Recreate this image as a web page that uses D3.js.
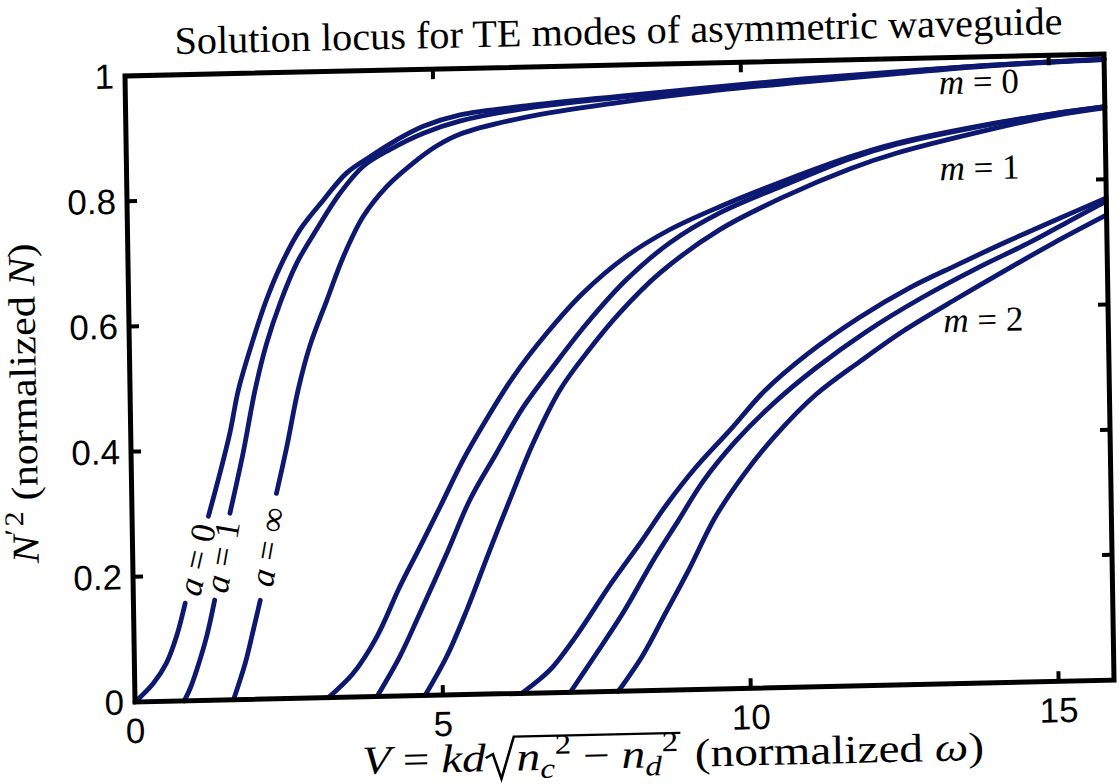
<!DOCTYPE html>
<html>
<head>
<meta charset="utf-8">
<script src="https://cdn.jsdelivr.net/npm/d3@7"></script>
<style>
  body { margin: 0; background: #fff; }
  svg { display: block; }
</style>
</head>
<body>
<svg id="chart" width="1120" height="784"></svg>
<script>
// ---- Solution locus data: [V, N'^2] pairs; null marks the gap left for a curve label ----
const m0_a0 = [[0,0],[0.3,0.029],[0.52,0.061],[0.69,0.103],[0.84,0.156],null,[1.24,0.294],[1.44,0.363],[1.61,0.426],[1.76,0.495],[2.01,0.574],[2.24,0.638],[2.47,0.69],[2.8,0.748],[3.19,0.795],[3.57,0.837],[3.95,0.862],[4.39,0.888],[4.83,0.909],[5.43,0.926],[6.5,0.938],[8,0.95],[9.5,0.961],[11,0.971],[12.5,0.979],[14,0.986],[15.9,0.992]];
const m0_a1 = [[0.8,0],[0.9,0.02],[1.01,0.049],[1.18,0.102],[1.32,0.16],null,[1.59,0.298],[1.82,0.394],[2.03,0.494],[2.23,0.568],[2.46,0.632],[2.74,0.695],[3.07,0.748],[3.46,0.805],[3.84,0.847],[4.28,0.873],[4.83,0.898],[5.42,0.916],[6.5,0.934],[8,0.948],[9.5,0.959],[11,0.969],[12.5,0.978],[14,0.986],[15.9,0.992]];
const m0_aInf = [[1.6,0],[1.8,0.058],[1.94,0.111],[2.06,0.158],null,[2.35,0.328],[2.53,0.402],[2.73,0.493],[2.93,0.562],[3.22,0.635],[3.5,0.704],[3.83,0.767],[4.22,0.814],[4.66,0.851],[5.04,0.877],[5.42,0.895],[6.5,0.92],[8,0.94],[9.5,0.955],[11,0.966],[12.5,0.976],[14,0.985],[15.9,0.991]];

const m1_a0 = [[3.14,0],[3.55,0.038],[3.94,0.095],[4.33,0.175],[4.67,0.238],[5.0,0.3],[5.39,0.375],[5.78,0.439],[6.22,0.505],[6.78,0.574],[7.38,0.637],[8.09,0.694],[8.8,0.735],[9.62,0.77],[10.7,0.81],[11.75,0.845],[12.5,0.865],[14,0.892],[15.1,0.907],[15.9,0.916]];
const m1_a1 = [[3.93,0],[4.31,0.063],[4.65,0.132],[5.1,0.226],[5.49,0.311],[5.93,0.384],[6.38,0.457],[6.87,0.52],[7.43,0.588],[8.09,0.657],[8.8,0.714],[9.62,0.76],[10.7,0.803],[11.75,0.842],[12.5,0.863],[14,0.891],[15.1,0.907],[15.9,0.916]];
const m1_aInf = [[4.71,0],[5.07,0.061],[5.41,0.135],[5.8,0.23],[6.14,0.31],[6.53,0.399],[6.98,0.483],[7.42,0.541],[7.97,0.604],[8.63,0.666],[9.61,0.733],[10.7,0.785],[11.75,0.826],[12.5,0.849],[14,0.883],[15.1,0.904],[15.9,0.914]];

const m2_a0 = [[6.28,0],[6.59,0.023],[6.8,0.042],[7.19,0.091],[7.78,0.175],[8.26,0.238],[8.68,0.296],[9.16,0.354],[9.76,0.416],[10.3,0.474],[11.0,0.531],[11.86,0.588],[12.69,0.634],[13.47,0.669],[14.25,0.703],[15.1,0.738],[15.9,0.77]];
const m2_a1 = [[7.07,0],[7.49,0.059],[7.96,0.127],[8.44,0.206],[8.86,0.269],[9.28,0.332],[9.82,0.395],[10.42,0.452],[11.14,0.509],[11.98,0.566],[12.87,0.617],[13.77,0.662],[14.67,0.703],[15.3,0.735],[15.9,0.765]];
const m2_aInf = [[7.85,0],[8.26,0.057],[8.62,0.12],[9.04,0.194],[9.46,0.273],[9.94,0.341],[10.48,0.404],[11.14,0.467],[11.86,0.518],[12.57,0.565],[13.47,0.616],[14.37,0.665],[15.03,0.7],[15.9,0.743]];

const curves = [m0_a0, m0_a1, m0_aInf, m1_a0, m1_a1, m1_aInf, m2_a0, m2_a1, m2_aInf];

const xTickValues = [0, 5, 10, 15];
const yTickValues = [0, 0.2, 0.4, 0.6, 0.8, 1];
const yTickLabels = ["0", "0.2", "0.4", "0.6", "0.8", "1"];

const asymLabels = ["0", "1", "\u221E"];      // a = 0, 1, ∞
const modeLabels = ["0", "1", "2"];           // m = 0, 1, 2

const titleText = "Solution locus for TE modes of asymmetric waveguide";

// ---- Layout ----
const W = 979, H = 626;
const x = d3.scaleLinear().domain([0, 15.9]).range([0, W]);
const y = d3.scaleLinear().domain([0, 1]).range([H, 0]);

const svg = d3.select("#chart");
svg.append("rect").attr("width", 1120).attr("height", 784).attr("fill", "#fff");

// the printed page sits slightly tilted
const g = svg.append("g").attr("transform", "matrix(1,-0.0224,0.016,1,125,76)");

const serif = "'Liberation Serif', 'Times New Roman', serif";
const sans = "'Liberation Sans', Arial, Helvetica, sans-serif";
const ink = "#000";
const curveColor = "#0d1870";

// ---- Curves ----
const line = d3.line()
  .defined(d => d !== null)
  .x(d => x(d[0]))
  .y(d => y(d[1]))
  .curve(d3.curveCatmullRom.alpha(0.5));

g.append("g").selectAll("path").data(curves).join("path")
  .attr("d", line)
  .attr("fill", "none")
  .attr("stroke", curveColor)
  .attr("stroke-width", 4.8)
  .attr("stroke-linejoin", "round")
  .attr("stroke-linecap", "round");

// ---- Frame and ticks ----
g.append("rect").attr("x", 0).attr("y", 0).attr("width", W).attr("height", H)
  .attr("fill", "none").attr("stroke", ink).attr("stroke-width", 5);

const tickLen = 10;
const tk = g.append("g").attr("stroke", ink).attr("stroke-width", 4);
xTickValues.filter(v => v > 0).forEach(v => {
  tk.append("line").attr("x1", x(v)).attr("x2", x(v)).attr("y1", H).attr("y2", H - tickLen);
  tk.append("line").attr("x1", x(v)).attr("x2", x(v)).attr("y1", 0).attr("y2", tickLen);
});
yTickValues.filter(v => v > 0 && v < 1).forEach(v => {
  tk.append("line").attr("x1", 0).attr("x2", tickLen).attr("y1", y(v)).attr("y2", y(v));
  tk.append("line").attr("x1", W).attr("x2", W - tickLen).attr("y1", y(v)).attr("y2", y(v));
});

// ---- Tick labels ----
g.append("g").selectAll("text").data(xTickValues).join("text")
  .attr("x", d => x(d)).attr("y", H + 41)
  .attr("text-anchor", "middle")
  .attr("font-family", sans).attr("font-size", 35).attr("fill", ink)
  .text(d => d3.format("d")(d));

g.append("g").selectAll("text").data(yTickValues).join("text")
  .attr("x", -11).attr("y", d => y(d))
  .attr("dy", "0.35em")
  .attr("text-anchor", "end")
  .attr("font-family", sans).attr("font-size", 35).attr("fill", ink)
  .text((d, i) => yTickLabels[i]);

// ---- Title ----
g.append("text")
  .attr("x", 494).attr("y", -21)
  .attr("text-anchor", "middle")
  .attr("font-family", serif).attr("font-size", 39).attr("fill", ink)
  .attr("textLength", 888).attr("lengthAdjust", "spacingAndGlyphs")
  .text(titleText);

// ---- Y axis label: N'^2 (normalized N) ----
const yl = g.append("text")
  .attr("transform", "translate(-94,325) rotate(-90)")
  .attr("text-anchor", "middle")
  .attr("font-family", serif).attr("font-size", 38).attr("fill", ink)
  .attr("textLength", 320).attr("lengthAdjust", "spacingAndGlyphs");
yl.append("tspan").attr("font-style", "italic").text("N");
yl.append("tspan").attr("font-size", 27).attr("dy", -15).text("\u2032\u200A2");
yl.append("tspan").attr("dy", 15).text(" (normalized ");
yl.append("tspan").attr("font-style", "italic").text("N");
yl.append("tspan").text(")");

// ---- X axis label: V = kd sqrt(nc^2 - nd^2) (normalized ω) ----
const xlabelPieces = [
  { t: "V", it: true }, { t: " = " }, { t: "kd", it: true },
  { rad: "open" },
  { t: "n", it: true }, { t: "c", it: true, sub: true }, { t: "2", sup: true },
  { t: " \u2212 " },
  { t: "n", it: true }, { t: "d", it: true, sub: true }, { t: "2", sup: true },
  { rad: "close" },
  { t: " (normalized " }, { t: "\u03C9", it: true }, { t: ")" }
];
const xl = g.append("g");
let cx = 0, radStart = 0;
const baseSize = 40;
xlabelPieces.forEach(p => {
  if (p.rad === "open") { radStart = cx; cx += 26; return; }
  if (p.rad === "close") {
    xl.append("path")
      .attr("d", `M${radStart},-13 L${radStart + 6},-17 L${radStart + 13},8 L${radStart + 24},-34 L${cx + 2},-34`)
      .attr("fill", "none").attr("stroke", ink).attr("stroke-width", 2.2).attr("stroke-linejoin", "miter");
    cx += 4;
    return;
  }
  const size = (p.sub || p.sup) ? 28 : baseSize;
  const dy = p.sub ? 8 : p.sup ? -16 : 0;
  const t = xl.append("text")
    .attr("x", cx).attr("y", dy)
    .attr("font-family", serif).attr("font-size", size).attr("fill", ink)
    .attr("font-style", p.it ? "italic" : "normal")
    .style("white-space", "pre")
    .text(p.t);
  cx += t.node().getComputedTextLength();
});
const xlTarget = 622;
const xlScale = xlTarget / cx;
xl.attr("transform", `translate(${537 - xlTarget / 2},${H + 77}) scale(${xlScale},1)`);

// ---- Curve labels a = 0, 1, ∞ (sit in the gaps of the m = 0 curves) ----
const asymPos = [[1.04, 0.225, -76], [1.455, 0.229, -79], [2.2, 0.243, -79]];
asymLabels.forEach((lab, i) => {
  const [v, b, ang] = asymPos[i];
  const t = g.append("text")
    .attr("transform", `translate(${x(v)},${y(b)}) rotate(${ang})`)
    .attr("text-anchor", "middle").attr("dy", "0.33em")
    .attr("font-family", serif).attr("font-size", 35).attr("fill", ink);
  t.append("tspan").attr("font-style", "italic").text("a");
  t.append("tspan").text(" = " + lab);
});

// ---- Mode labels m = 0, 1, 2 ----
const modePos = [[13.86, 0.96], [13.85, 0.823], [13.87, 0.58]];
modeLabels.forEach((lab, i) => {
  const [v, b] = modePos[i];
  const t = g.append("text")
    .attr("x", x(v)).attr("y", y(b)).attr("dy", "0.33em")
    .attr("text-anchor", "middle")
    .attr("font-family", serif).attr("font-size", 35).attr("fill", ink);
  t.append("tspan").attr("font-style", "italic").text("m");
  t.append("tspan").text(" = " + lab);
});
</script>
</body>
</html>
